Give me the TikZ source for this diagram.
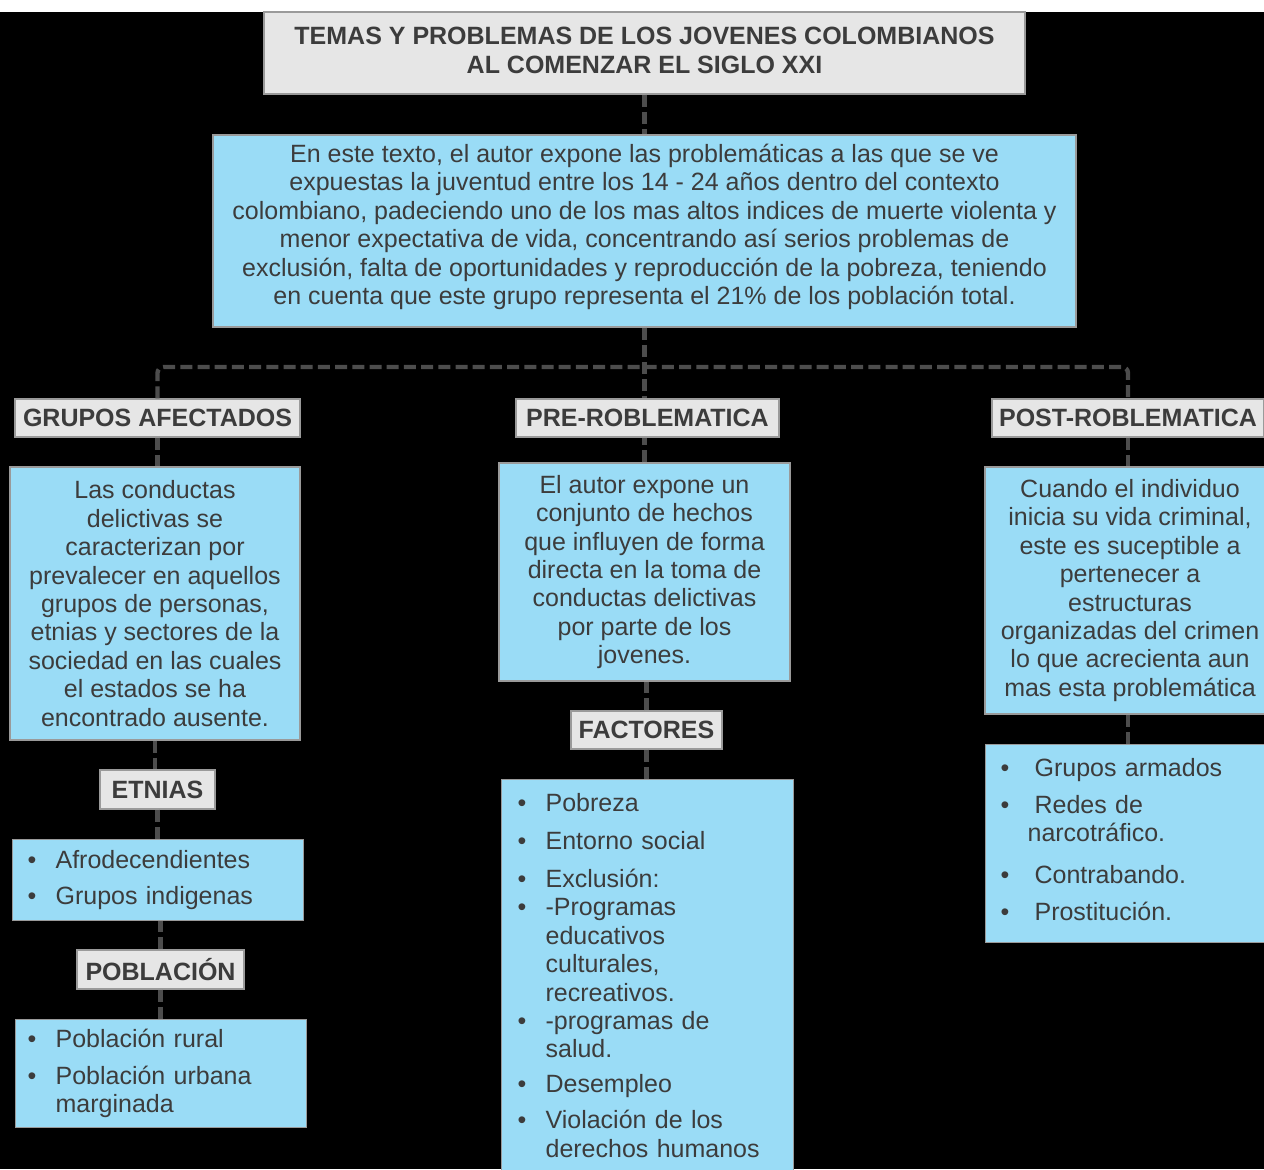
\documentclass[tikz,border=0pt]{standalone}
\usepackage{fontspec}
\setmainfont{Liberation Sans}
\definecolor{blu}{HTML}{9ADCF6}
\definecolor{gbox}{HTML}{E6E6E6}
\definecolor{bord}{HTML}{9A9A9A}
\definecolor{tc}{HTML}{3C3C3C}
\definecolor{cc}{HTML}{4D4D4D}
\newcommand{\bl}{\makebox[14pt][l]{\textbullet}}
\newcommand{\ind}{\hspace*{14pt}}
\newcommand{\blr}{\makebox[17pt][l]{\textbullet}}
\newcommand{\indr}{\hspace*{13.5pt}}
\begin{document}
\begin{tikzpicture}[x=0.5pt,y=-0.5pt,
  txt/.style={text=tc, font=\fontsize{12.5}{14.2}\selectfont},
  graybox/.style={draw=bord, fill=gbox, line width=0.6pt, inner sep=0pt, text=tc, font=\fontsize{12.5}{14.5}\selectfont\bfseries, align=center},
  bluebox/.style={txt, draw=bord, fill=blu, line width=0.6pt, inner sep=0pt, align=center},
  listbox/.style={bluebox, align=left, anchor=north west},
  conn/.style={draw=cc, line width=2.2pt, dash pattern=on 6pt off 2.6pt}]
\useasboundingbox (0,0) rectangle (1264,1169);
\fill[white] (0,0) rectangle (1264,12);
\fill[black] (0,12) rectangle (1264,1169);

% title and summary
\node[graybox, minimum width=380.5pt, minimum height=41pt, text depth=3pt] (title) at (644.5,53)
  {TEMAS Y PROBLEMAS DE LOS JOVENES COLOMBIANOS\\AL COMENZAR EL SIGLO XXI};
\node[bluebox, minimum width=431.5pt, minimum height=96pt, text depth=6.8pt] (sum) at (644.5,231)
  {En este texto, el autor expone las problemáticas a las que se ve\\
   expuestas la juventud entre los 14 - 24 años dentro del contexto\\
   colombiano, padeciendo uno de los mas altos indices de muerte violenta y\\
   menor expectativa de vida, concentrando así serios problemas de\\
   exclusión, falta de oportunidades y reproducción de la pobreza, teniendo\\
   en cuenta que este grupo representa el 21\% de los población total.};

% headers
\node[graybox, minimum width=142.5pt, minimum height=19pt] (ga) at (157.5,418) {GRUPOS AFECTADOS};
\node[graybox, minimum width=131.5pt, minimum height=19pt] (pre) at (647.5,418) {PRE-ROBLEMATICA};
\node[graybox, minimum width=136pt, minimum height=19pt] (post) at (1128,418) {POST-ROBLEMATICA};

% left column
\node[bluebox, minimum width=145pt, minimum height=136.5pt] (lb) at (155,603.5)
  {Las conductas\\ delictivas se\\ caracterizan por\\ prevalecer en aquellos\\ grupos de personas,\\
   etnias y sectores de la\\ sociedad en las cuales\\ el estados se ha\\ encontrado ausente.};
\node[graybox, minimum width=57.5pt, minimum height=19.5pt] (etn) at (157.5,789.5) {ETNIAS};
\node[listbox, minimum width=145.5pt, minimum height=40.5pt, inner xsep=7.5pt, text width=130.5pt] (afro) at (12,839)
  {\bl Afrodecendientes\\[4pt] \bl Grupos indigenas};
\node[graybox, minimum width=83.5pt, minimum height=19.5pt] (pobh) at (160.5,969.5) {POBLACIÓN};
\node[listbox, minimum width=145.5pt, minimum height=54pt, inner xsep=6pt, text width=133.5pt] (pob) at (15,1019)
  {\bl Población rural\\[4pt] \bl Población urbana\\ \ind marginada};

% middle column
\node[bluebox, minimum width=145.5pt, minimum height=109pt] (mid) at (644.5,572)
  {El autor expone un\\ conjunto de hechos\\ que influyen de forma\\ directa en la toma de\\
   conductas delictivas\\ por parte de los\\ jovenes.};
\node[graybox, minimum width=75.5pt, minimum height=19pt] (fac) at (646.5,730) {FACTORES};
\node[listbox, minimum width=146pt, inner xsep=8pt, inner ysep=7pt, text width=130pt] (facl) at (501,779)
  {\bl Pobreza\\[4.75pt]
   \bl Entorno social\\[4.75pt]
   \bl Exclusión:\\
   \bl -Programas\\
   \ind educativos\\
   \ind culturales,\\
   \ind recreativos.\\
   \bl -programas de\\
   \ind salud.\\[3pt]
   \bl Desempleo\\[4pt]
   \bl Violación de los\\
   \ind derechos humanos};

% right column
\node[bluebox, minimum width=145pt, minimum height=123.5pt] (rb) at (1130,590.5)
  {Cuando el individuo\\ inicia su vida criminal,\\ este es suceptible a\\ pertenecer a\\ estructuras\\
   organizadas del crimen\\ lo que acrecienta aun\\ mas esta problemática};
\node[listbox, minimum width=145pt, inner xsep=7.5pt, inner ysep=7pt, text width=130pt] (rl) at (985,744)
  {\blr Grupos armados\\[4pt]
   \blr Redes de\\
   \indr narcotráfico.\\[7pt]
   \blr Contrabando.\\[4pt]
   \blr Prostitución.\strut};

% connectors
\coordinate (hub) at (644.5,367);
\draw[conn] (title.south) -- (sum.north);
\draw[conn] (sum.south) -- (hub) -- (hub |- pre.north);
\draw[conn, rounded corners=3pt] (ga.north) |- (hub) -| (post.north);
\draw[conn] (ga.south) -- (ga.south |- lb.north);
\draw[conn] (lb.south) -- (lb.south |- etn.north);
\draw[conn] (etn.south) -- (etn.south |- afro.north);
\draw[conn] (pobh.north) -- (pobh.north |- afro.south);
\draw[conn] (pobh.south) -- (pobh.south |- pob.north);
\draw[conn] (mid.north) -- (mid.north |- pre.south);
\draw[conn] (fac.north) -- (fac.north |- mid.south);
\draw[conn] (fac.south) -- (fac.south |- facl.north);
\draw[conn] (post.south) -- (post.south |- rb.north);
\draw[conn] (rl.north -| post.south) -- (rb.south -| post.south);
\end{tikzpicture}
\end{document}
